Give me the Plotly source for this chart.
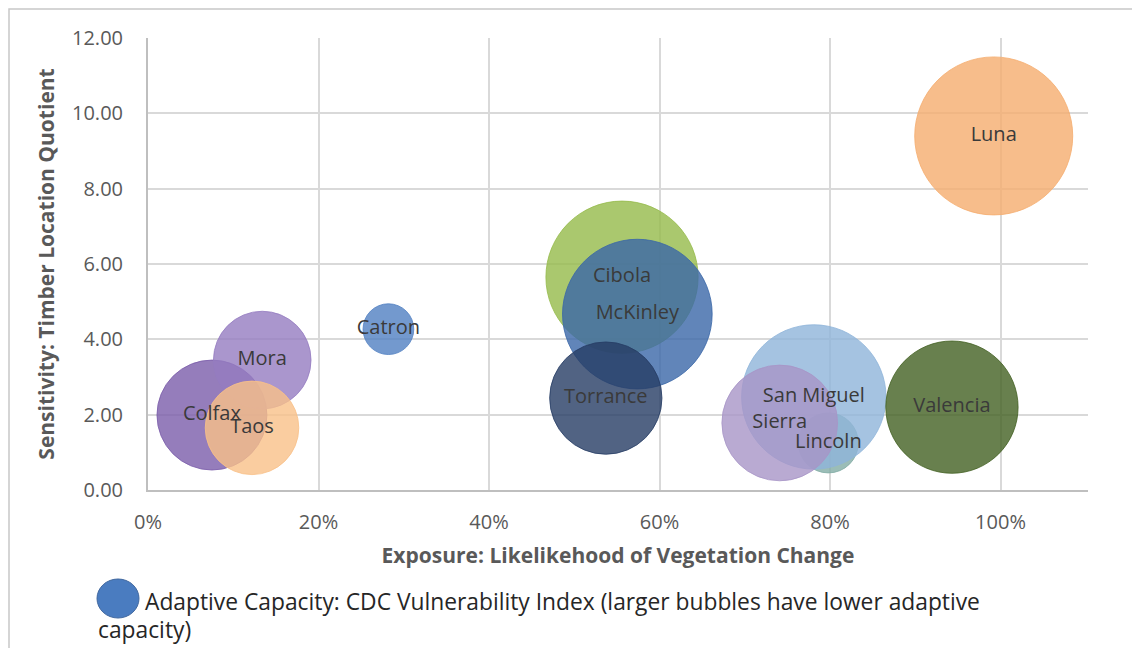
import plotly.graph_objects as go

# county data
counties = ["Catron", "Cibola", "Colfax", "Lincoln", "Luna", "McKinley",
            "Mora", "San Miguel", "Sierra", "Taos", "Torrance", "Valencia"]
exposure = [0.282, 0.556, 0.075, 0.798, 0.992, 0.574,
            0.134, 0.781, 0.741, 0.122, 0.537, 0.943]
sensitivity = [4.27, 5.65, 1.99, 1.25, 9.40, 4.67,
               3.45, 2.47, 1.78, 1.65, 2.44, 2.20]
vulnerability = [0.10, 0.90, 0.47, 0.14, 0.97, 0.87,
                 0.37, 0.81, 0.52, 0.34, 0.49, 0.68]
colors = ["rgba(80,128,194,0.8)", "rgba(149,186,74,0.8)", "rgba(122,92,170,0.8)",
          "rgba(130,172,165,0.8)", "rgba(245,172,110,0.8)", "rgba(58,102,168,0.8)",
          "rgba(149,124,192,0.8)", "rgba(142,180,217,0.8)", "rgba(168,149,199,0.8)",
          "rgba(249,193,136,0.8)", "rgba(38,60,100,0.8)", "rgba(66,96,34,0.8)"]

x_ticks = [0, 0.2, 0.4, 0.6, 0.8, 1.0]
y_ticks = [0, 2, 4, 6, 8, 10, 12]

FONT = "Open Sans"
OFF = 8  # page body margin
W, H = 1140, 648
L, T = 148 - OFF, 38 - OFF
pw, ph = 940, 452
R, B = W - L - pw, H - T - ph


def px(x):
    return (x - OFF - L) / pw


def py(y):
    return (T + ph + OFF - y) / ph


max_d = 158
fig = go.Figure()
fig.add_trace(go.Scatter(
    x=exposure, y=sensitivity, text=counties,
    mode="markers+text", textposition="middle center",
    textfont=dict(family=FONT, size=20, color="#3a3a3a"),
    marker=dict(size=vulnerability, sizemode="area",
                sizeref=2 * max(vulnerability) / max_d ** 2,
                color=colors, opacity=1,
                line=dict(width=1, color=colors)),
    showlegend=False, hoverinfo="text",
))

fig.update_layout(
    width=W, height=H,
    margin=dict(l=L, r=R, t=T, b=B),
    plot_bgcolor="white", paper_bgcolor="white",
    font=dict(family=FONT, color="#595959"),
)
fig.update_xaxes(
    range=[0, 1.1026], tickvals=x_ticks, tickformat=".0%",
    tickfont=dict(size=20, color="#595959"), ticklabelstandoff=13,
    showgrid=True, gridcolor="#d9d9d9", gridwidth=1.5,
    showline=True, linecolor="#bfbfbf", linewidth=2, zeroline=False,
    title=dict(text="<b>Exposure: Likelikehood of Vegetation Change</b>",
               font=dict(size=21, color="#595959"), standoff=14),
)
fig.update_yaxes(
    range=[0, 12], tickvals=y_ticks, tickformat=".2f",
    tickfont=dict(size=20, color="#595959"), ticklabelstandoff=19,
    showgrid=True, gridcolor="#d9d9d9", gridwidth=1.5,
    showline=True, linecolor="#bfbfbf", linewidth=2, zeroline=False,
    title=dict(text="<b>Sensitivity: Timber Location Quotient</b>",
               font=dict(size=21, color="#595959"), standoff=12),
)

# outer frame of the chart area
fig.add_shape(type="rect", xref="paper", yref="paper",
              x0=px(9), x1=px(1170), y0=py(690), y1=py(9),
              line=dict(color="#c8c8c8", width=1.5), fillcolor="rgba(0,0,0,0)",
              layer="below")

# legend for bubble size
fig.add_shape(type="circle", xref="paper", yref="paper",
              x0=px(97), x1=px(139), y0=py(618), y1=py(579),
              fillcolor="#4a7cc0", line=dict(color="#41689f", width=1))
fig.add_annotation(xref="paper", yref="paper", x=px(143), y=py(601),
                   xanchor="left", yanchor="middle", showarrow=False,
                   text="Adaptive Capacity: CDC Vulnerability Index (larger bubbles have lower adaptive",
                   font=dict(family=FONT, size=22.8, color="#262626"))
fig.add_annotation(xref="paper", yref="paper", x=px(96), y=py(629),
                   xanchor="left", yanchor="middle", showarrow=False,
                   text="capacity)",
                   font=dict(family=FONT, size=22.8, color="#262626"))

fig.write_html("out.html")
